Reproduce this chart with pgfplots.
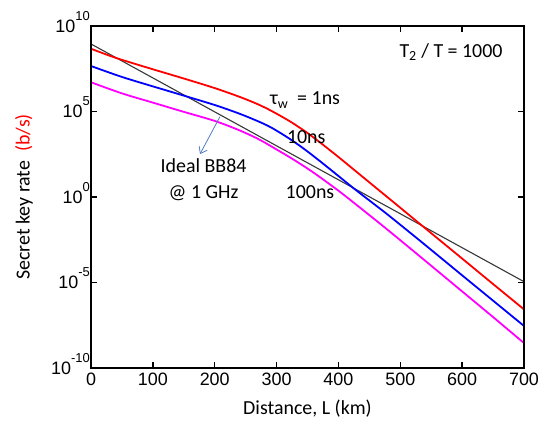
\documentclass[border=0pt]{standalone}
\usepackage{pgfplots}
\pgfplotsset{compat=1.18}
\usepackage{fontspec}
\setmainfont{Carlito}
\newfontfamily\arialfont{Liberation Sans}
\usetikzlibrary{arrows.meta}

\definecolor{bbgray}{RGB}{55,55,55}
\definecolor{arrowblue}{RGB}{80,125,195}
\definecolor{cred}{RGB}{255,0,0}
\definecolor{cblue}{RGB}{0,0,255}
\definecolor{cmag}{RGB}{255,0,255}

% exponent for the y tick labels
\newcommand\ex[1]{\smash{\raisebox{12bp}{\fontsize{13}{13}\selectfont #1}}}

% tau_w = 1ns
\pgfplotstableread{
L    R
0    4.68e8
25   2.14e8
50   1.05e8
100  2.95e7
150  8.51e6
200  2.34e6
240  7.24e5
270  2.63e5
292  1.07e5
320  2.88e4
345  7.41e3
370  1.58e3
400  219
430  28.2
460  3.63
490  0.468
534  2.29e-2
600  2.51e-4
650  8.13e-6
700  2.69e-7
}\rateone

% tau_w = 10ns
\pgfplotstableread{
L    R
0    4.57e7
50   1.05e7
100  2.95e6
150  8.51e5
200  2.40e5
238  7.94e4
270  2.69e4
292  1.12e4
320  2.69e3
345  631
370  126
400  17.0
426  2.95
460  0.331
480  0.0912
534  2.40e-3
600  2.63e-5
650  8.71e-7
700  2.88e-8
}\rateten

% tau_w = 100ns
\pgfplotstableread{
L    R
0    5.13e6
50   1.15e6
100  3.31e5
150  9.55e4
200  2.82e4
238  8.51e3
270  2.51e3
300  603
330  135
360  26.3
400  2.34
440  0.170
480  1.17e-2
534  2.88e-4
600  3.02e-6
650  9.55e-8
700  2.88e-9
}\ratehundred

\tikzset{tk/.style={black, line width=1.4bp}}

\begin{document}
\begin{tikzpicture}
\begin{axis}[
  scale only axis,
  width=433bp, height=342bp,
  xmin=0, xmax=700,
  ymode=log, ymin=1e-10, ymax=1e10,
  xtick={0,100,...,700},
  ytick={1e-10,1e-5,1,1e5,1e10},
  yticklabels={10\ex{-10},10\ex{-5},10\ex{0},10\ex{5},10\ex{10}},
  tick align=inside,
  major tick length=6bp,
  tick style={black, line width=1.4bp},
  axis line style={line width=2.2bp},
  ticklabel style={font=\arialfont\fontsize{18}{20}\selectfont},
  xticklabel style={yshift=-1bp, /pgf/number format/assume math mode=true},
  yticklabel style={inner xsep=1bp},
  label style={font=\fontsize{20}{24}\selectfont},
  xlabel={Distance, L (km)},
  ylabel={Secret key rate\ \ \textcolor{cred}{(b/s)}},
  xlabel style={at={(axis description cs:0.5,-0.118)}, anchor=center},
  ylabel style={at={(axis description cs:-0.155,0.5)}, anchor=center},
]
\addplot[bbgray, line width=1.1bp] coordinates {(0,8.91e8) (350,100) (700,1.12e-5)};
\addplot[cred, line width=1.8bp, smooth] table[x=L, y=R] {\rateone};
\addplot[cblue, line width=1.8bp, smooth] table[x=L, y=R] {\rateten};
\addplot[cmag, line width=1.8bp, smooth] table[x=L, y=R] {\ratehundred};

% inward ticks on all four sides (about 6bp long)
\pgfplotsinvokeforeach{100,200,300,400,500,600}{
  \draw[tk] (axis cs:#1,1e-10) -- (axis cs:#1,2.24e-10);
  \draw[tk] (axis cs:#1,1e10) -- (axis cs:#1,4.46e9);
}
\pgfplotsinvokeforeach{1e-5,1,1e5}{
  \draw[tk] (axis cs:0,#1) -- (axis cs:9.7,#1);
  \draw[tk] (axis cs:700,#1) -- (axis cs:690.3,#1);
}

\node[anchor=east, font=\fontsize{20}{24}\selectfont] at (axis cs:671,3e8) {T\textsubscript{2} / T = 1000};
\node[font=\fontsize{20}{24}\selectfont] at (axis cs:346,4.68e5) {τ\textsubscript{w}\ \ = 1ns};
\node[font=\fontsize{20}{24}\selectfont] at (axis cs:348,3.24e3) {10ns};
\node[font=\fontsize{20}{24}\selectfont] at (axis cs:354,1.95) {100ns};
\node[font=\fontsize{20}{26}\selectfont, align=center] at (axis cs:182,9.8) {Ideal BB84\\@ 1 GHz};
\draw[arrowblue, line width=0.8bp, -{Straight Barb[length=6bp,width=9bp]}] (axis cs:208.5,5.0e4) -- (axis cs:176.2,324);
\end{axis}
\draw[black, line width=2.2bp] (current axis.south west) rectangle (current axis.north east);
\pgfresetboundingbox
\path ([xshift=-91bp,yshift=-56bp]current axis.south west) rectangle ([xshift=20bp,yshift=26bp]current axis.north east);
\end{tikzpicture}
\end{document}
